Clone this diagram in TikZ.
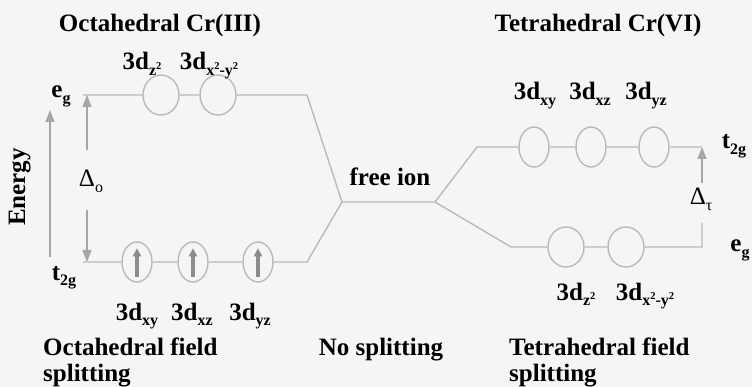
\documentclass[tikz,border=0pt]{standalone}
\usepackage{fontspec}
\setmainfont{Liberation Serif}
\usetikzlibrary{shapes.geometric,arrows.meta}
% subscripts and the small square
\newcommand{\sbs}[1]{\raisebox{-0.45ex}{\fontsize{16}{16}\selectfont #1}}
\newcommand{\sq}{\raisebox{0.75ex}{\fontsize{10.5}{10.5}\selectfont 2}}

\begin{document}
\begin{tikzpicture}[x=1pt, y=-1pt,
    lvl/.style={draw=black!27, line width=1.4pt},
    orb/.style={ellipse, draw=black!27, line width=1.4pt, minimum width=36pt, minimum height=40pt, inner sep=0pt},
    orbt/.style={orb, minimum width=30pt},
    garr/.style={draw=black!35, line width=1.5pt, -{Triangle[length=12pt,width=9pt]}},
    spin/.style={draw=black!45, line width=3.5pt, -{Triangle[length=8pt,width=8pt]}},
    lbl/.style={font=\bfseries\fontsize{25}{29}\selectfont, inner sep=0pt, anchor=base},
    dlt/.style={font=\fontsize{25}{29}\selectfont, inner sep=0pt, anchor=base}]
    \fill[black!4] (0,0) rectangle (752,387);
    \useasboundingbox (0,0) rectangle (752,387);

    % titles
    \node[lbl] (octT) at (160,32) {Octahedral Cr(III)};
    \node[lbl] (tetT) at (598,32) {Tetrahedral Cr(VI)};

    % octahedral levels
    \coordinate (oeL) at (83,95);
    \node[orb] (oe1) at (161,95) {};
    \node[orb] (oe2) at (218,95) {};
    \coordinate (oeR) at (307,95);
    \coordinate (otL) at (83,262);
    \node[orbt] (ot1) at (137,262) {};
    \node[orbt] (ot2) at (193,262) {};
    \node[orbt] (ot3) at (258,262) {};
    \coordinate (otR) at (307,262);

    % free ion
    \coordinate (fiL) at (342,202);
    \coordinate (fiR) at (435,202);

    % tetrahedral levels
    \coordinate (ttL) at (477,147);
    \node[orbt] (tt1) at (534,147) {};
    \node[orbt] (tt2) at (591,147) {};
    \node[orbt] (tt3) at (654,147) {};
    \coordinate (ttR) at (702,147);
    \coordinate (teL) at (511,247);
    \node[orb] (te1) at (566,247) {};
    \node[orb] (te2) at (626,247) {};
    \coordinate (teR) at (702,247);

    \draw[lvl] (oeL) -- (oe1) -- (oe2) -- (oeR) -- (fiL) -- (fiR) -- (ttL) -- (tt1) -- (tt2) -- (tt3) -- (ttR);
    \draw[lvl] (otL) -- (ot1) -- (ot2) -- (ot3) -- (otR) -- (fiL);
    \coordinate (dTb) at (702,223);
    \draw[lvl] (fiR) -- (teL) -- (te1) -- (te2) -- (teR) -- (dTb);

    % electrons
    \foreach \o in {ot1,ot2,ot3}
        \draw[spin] ([yshift=6pt]\o.south) -- ([yshift=-7pt]\o.north);

    % energy and splitting arrows
    \coordinate (enB) at (50,257);
    \coordinate (enT) at (50,110);
    \draw[garr] (enB) -- (enT);
    \node[lbl, rotate=90] (energy) at (25,187) {Energy};

    \coordinate (dOa) at (87,150);
    \coordinate (dOb) at (87,210);
    \draw[garr] (dOa) -- (dOa |- oeL);
    \draw[garr] (dOb) -- (dOb |- otL);
    \node[dlt] (dO) at (91,187) {Δ\sbs{o}};

    \coordinate (dTa) at (702,183);
    \draw[garr] (dTa) -- (ttR);
    \node[dlt] (dT) at (701,205) {Δ\sbs{τ}};

    % level names
    \node[lbl] (oeg) at (61,98) {e\sbs{g}};
    \node[lbl] (ot2g) at (64,280) {t\sbs{2g}};
    \node[lbl] (tt2g) at (734,149) {t\sbs{2g}};
    \node[lbl] (teg) at (740,252) {e\sbs{g}};
    \node[lbl] (free) at (390,186) {free ion};

    % orbital names
    \node[lbl] (oez) at (142,70) {3d\sbs{z\sq}};
    \node[lbl] (oex) at (209,70) {3d\sbs{x\sq-y\sq}};
    \node[lbl] (otxy) at (137,320) {3d\sbs{xy}};
    \node[lbl] (otxz) at (192,320) {3d\sbs{xz}};
    \node[lbl] (otyz) at (250,320) {3d\sbs{yz}};
    \node[lbl] (ttxy) at (535,100) {3d\sbs{xy}};
    \node[lbl] (ttxz) at (590,100) {3d\sbs{xz}};
    \node[lbl] (ttyz) at (646,100) {3d\sbs{yz}};
    \node[lbl] (tez) at (576,300) {3d\sbs{z\sq}};
    \node[lbl] (tex) at (645,300) {3d\sbs{x\sq-y\sq}};

    % captions
    \node[lbl, anchor=base west] (octF) at (43,355) {Octahedral field};
    \node[lbl, anchor=base west] (octS) at (43,381) {splitting};
    \node[lbl] (noS) at (381,355) {No splitting};
    \node[lbl, anchor=base west] (tetF) at (509,355) {Tetrahedral field};
    \node[lbl, anchor=base west] (tetS) at (509,381) {splitting};
\end{tikzpicture}
\end{document}
